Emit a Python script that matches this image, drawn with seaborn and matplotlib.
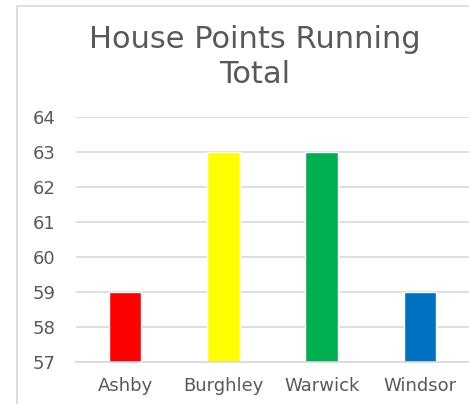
import matplotlib
matplotlib.use("Agg")
import matplotlib.pyplot as plt
import seaborn as sns
import pandas as pd
from matplotlib.patches import Rectangle

houses = ["Ashby", "Burghley", "Warwick", "Windsor"]
points = [59, 63, 63, 59]
colours = ["#FF0000", "#FFFF00", "#00B050", "#0070C0"]
yticks = [57, 58, 59, 60, 61, 62, 63, 64]

df = pd.DataFrame({"house": houses, "points": points})

sns.set_style("white")
plt.rcParams["font.family"] = ["DejaVu Sans"]

fig = plt.figure(figsize=(4.69, 4.04), dpi=100)
ax = fig.add_axes([76 / 469, 42 / 404, 1 - 76 / 469, 245 / 404])

sns.barplot(data=df, x="house", y="points", hue="house", palette=colours,
            width=0.33, saturation=1, legend=False, ax=ax, bottom=0)

ax.set_ylim(57, 64)
ax.set_yticks(yticks)
ax.set_xlim(-0.5, 3.5)
ax.grid(axis="y", color="#d9d9d9", linewidth=1.2)
ax.set_axisbelow(True)
for s in ["top", "right", "left"]:
    ax.spines[s].set_visible(False)
ax.spines["bottom"].set_color("#d9d9d9")
ax.spines["bottom"].set_linewidth(1.2)
ax.tick_params(axis="y", length=0, pad=15, labelsize=13, labelcolor="#595959")
ax.tick_params(axis="x", length=0, pad=11, labelsize=13, labelcolor="#595959")
ax.set_xlabel("")
ax.set_ylabel("")

fig.text(255 / 469, 1 - 25 / 404, "House Points Running\nTotal", ha="center", va="top",
         fontsize=22, color="#595959", linespacing=1.25)

# chart frame (cropped)
fig.add_artist(Rectangle((16.5 / 469, -0.1), 2, 1 - 5.5 / 404 + 0.1,
                         transform=fig.transFigure, fill=False,
                         edgecolor="#d9d9d9", linewidth=1.2))

fig.savefig("out.png", dpi=100)
